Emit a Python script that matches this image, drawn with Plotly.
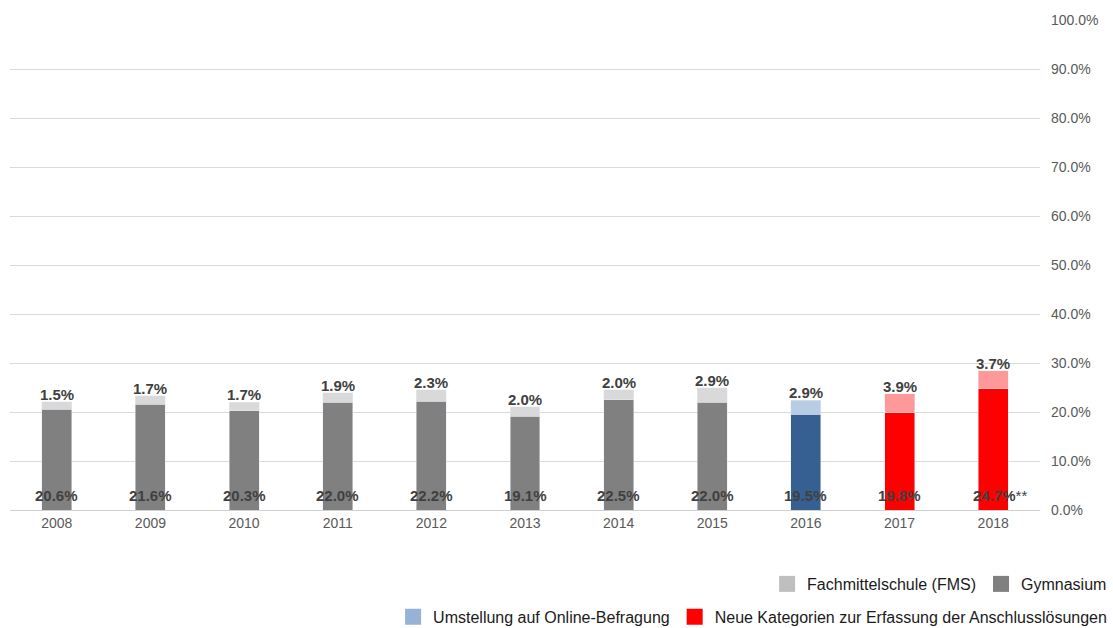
import plotly.graph_objects as go

years = ["2008", "2009", "2010", "2011", "2012", "2013", "2014", "2015", "2016", "2017", "2018"]
gymnasium = [20.6, 21.6, 20.3, 22.0, 22.2, 19.1, 22.5, 22.0, 19.5, 19.8, 24.7]
fms = [1.5, 1.7, 1.7, 1.9, 2.3, 2.0, 2.0, 2.9, 2.9, 3.9, 3.7]
gym_suffix = [""] * 10 + ["**"]

gym_colors = ["#808080"] * 8 + ["#376092", "#ff0000", "#ff0000"]
fms_colors = ["#d9d9d9"] * 8 + ["#b8cce4", "#ff9999", "#ff9999"]

label_color = "#404040"
font_family = "Liberation Sans, Arial, sans-serif"

fig = go.Figure()
fig.add_trace(go.Bar(x=years, y=gymnasium, marker_color=gym_colors, showlegend=False,
                     hoverinfo="skip"))
fig.add_trace(go.Bar(x=years, y=fms, marker_color=fms_colors, showlegend=False,
                     hoverinfo="skip"))

totals = [g + f for g, f in zip(gymnasium, fms)]
for i, (tot, f) in enumerate(zip(totals, fms)):
    fig.add_annotation(x=i, y=tot, xref="x", yref="y", text=f"<b>{f:.1f}%</b>",
                       showarrow=False, yanchor="bottom", yshift=-3,
                       font=dict(size=15, color=label_color, family=font_family))
for i, (g, s) in enumerate(zip(gymnasium, gym_suffix)):
    txt = f"<b>{g:.1f}%</b>{s}"
    fig.add_annotation(x=i, y=0, xref="x", yref="y", text=txt,
                       showarrow=False, yanchor="bottom", yshift=4,
                       xanchor="left" if s else "center",
                       xshift=-22 if s else 0,
                       font=dict(size=15, color=label_color, family=font_family))

# legend entries
legend_items = [
    ("Fachmittelschule (FMS)", "#bfbfbf", "legend"),
    ("Gymnasium", "#808080", "legend"),
    ("Umstellung auf Online-Befragung", "#95b3d7", "legend2"),
    ("Neue Kategorien zur Erfassung der Anschlusslösungen", "#ff0000", "legend2"),
]
for name, color, leg in legend_items:
    fig.add_trace(go.Scatter(x=[None], y=[None], mode="markers", name=name,
                             marker=dict(symbol="square", size=16, color=color,
                                         line=dict(width=0)),
                             legend=leg))

fig.update_layout(
    width=1113, height=628,
    barmode="stack", bargap=0.68,
    plot_bgcolor="white", paper_bgcolor="white",
    margin=dict(l=10, r=73, t=20, b=118, autoexpand=False),
    font=dict(family=font_family, color="#595959", size=13),
    xaxis=dict(type="category", range=[-0.5, 10.5], showgrid=False, showline=True,
               linecolor="#d0d0d0", linewidth=1, ticks="",
               tickfont=dict(size=14, color="#595959"), automargin=False),
    yaxis=dict(side="right", range=[0, 100], dtick=10, tickformat=".1f", ticksuffix="%",
               showgrid=True, gridcolor="#d9d9d9", zeroline=False,
               tickfont=dict(size=14, color="#595959"), ticks="", ticklabelstandoff=10,
               automargin=False),
    legend=dict(orientation="h", x=1.07, xanchor="right", y=-0.151, yanchor="middle",
                font=dict(size=16, color="#1a1a1a"), traceorder="normal",
                itemsizing="trace"),
    legend2=dict(orientation="h", x=1.07, xanchor="right", y=-0.218, yanchor="middle",
                 font=dict(size=16, color="#1a1a1a"), traceorder="normal",
                 itemsizing="trace"),
)

fig.write_html("out.html", config={"displayModeBar": False},
               post_script="document.body.style.margin='0';")
